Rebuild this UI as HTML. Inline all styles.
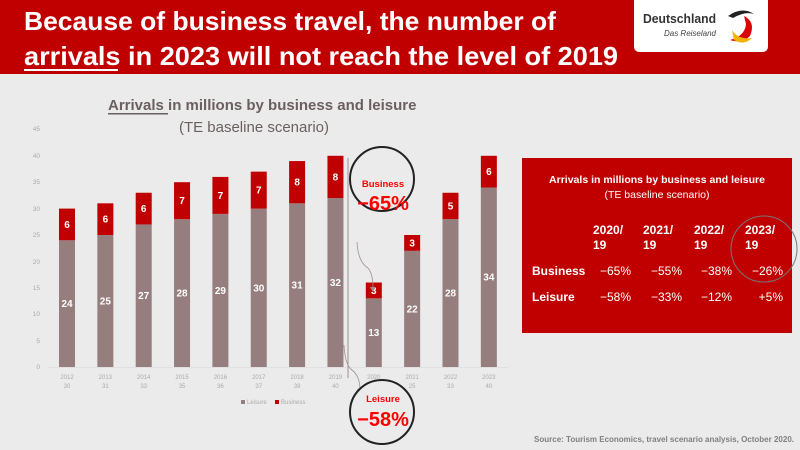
<!DOCTYPE html>
<html><head><meta charset="utf-8"><style>
html,body{margin:0;padding:0;background:#ebebeb;}
svg{display:block;font-family:"Liberation Sans",Arial,sans-serif;}
</style></head><body>
<svg width="800" height="450" viewBox="0 0 800 450" xmlns="http://www.w3.org/2000/svg">
<rect width="800" height="450" fill="#ebebeb"/>
<rect width="800" height="74" fill="#c00000"/>
<text x="24" y="30" fill="#fff" font-size="26" font-weight="bold" textLength="532" lengthAdjust="spacingAndGlyphs">Because of business travel, the number of</text>
<text x="24" y="65" fill="#fff" font-size="26" font-weight="bold" textLength="594" lengthAdjust="spacingAndGlyphs">arrivals in 2023 will not reach the level of 2019</text>
<rect x="24" y="69" width="94" height="2" fill="#fff"/>
<path d="M634 0 H768 V46 Q768 52 762 52 H640 Q634 52 634 46 Z" fill="#fff"/>
<text x="643" y="23" fill="#333" font-size="13" font-weight="bold" textLength="73" lengthAdjust="spacingAndGlyphs">Deutschland</text>
<text x="716" y="36" fill="#444" font-size="8" font-style="italic" text-anchor="end">Das Reiseland</text>
<path d="M728 16 Q742 6 754 14 Q745 11 733 18 Z" fill="#222"/>
<path d="M744 16 Q756 22 750 36 Q742 44 730 40 Q745 36 746 24 Z" fill="#d00"/>
<path d="M732 30 Q738 40 752 38 Q744 46 734 40 Z" fill="#f0b400"/>
<text x="108" y="110" fill="#6b5f5f" font-size="15" font-weight="bold">Arrivals in millions by business and leisure</text>
<rect x="108" y="113" width="60" height="1.5" fill="#6b5f5f"/>
<text x="254" y="132" fill="#6b5f5f" font-size="15" text-anchor="middle">(TE baseline scenario)</text>
<g font-size="6.5" fill="#aaa" text-anchor="end">
<text x="40" y="131">45</text><text x="40" y="158">40</text><text x="40" y="184">35</text><text x="40" y="211">30</text><text x="40" y="237">25</text><text x="40" y="264">20</text><text x="40" y="290">15</text><text x="40" y="316">10</text><text x="40" y="343">5</text><text x="40" y="369">0</text>
</g>
<line x1="48" y1="367.5" x2="508" y2="367.5" stroke="#dcdcdc" stroke-width="0.8"/>
<g fill="#967e7e">
<rect x="59" y="240.28" width="16" height="126.72"/>
<rect x="97.35" y="235" width="16" height="132"/>
<rect x="135.7" y="224.44" width="16" height="142.56"/>
<rect x="174.05" y="219.16" width="16" height="147.84"/>
<rect x="212.4" y="213.88" width="16" height="153.12"/>
<rect x="250.75" y="208.6" width="16" height="158.4"/>
<rect x="289.1" y="203.32" width="16" height="163.68"/>
<rect x="327.45" y="198.04" width="16" height="168.96"/>
<rect x="365.8" y="298.36" width="16" height="68.64"/>
<rect x="404.15" y="250.84" width="16" height="116.16"/>
<rect x="442.5" y="219.16" width="16" height="147.84"/>
<rect x="480.85" y="187.48" width="16" height="179.52"/>
</g>
<g fill="#c00000">
<rect x="59" y="208.6" width="16" height="31.68"/>
<rect x="97.35" y="203.32" width="16" height="31.68"/>
<rect x="135.7" y="192.76" width="16" height="31.68"/>
<rect x="174.05" y="182.2" width="16" height="36.96"/>
<rect x="212.4" y="176.92" width="16" height="36.96"/>
<rect x="250.75" y="171.64" width="16" height="36.96"/>
<rect x="289.1" y="161.08" width="16" height="42.24"/>
<rect x="327.45" y="155.8" width="16" height="42.24"/>
<rect x="365.8" y="282.52" width="16" height="15.84"/>
<rect x="404.15" y="235" width="16" height="15.84"/>
<rect x="442.5" y="192.76" width="16" height="26.4"/>
<rect x="480.85" y="155.8" width="16" height="31.68"/>
</g>
<g fill="#fff" font-size="10" font-weight="bold" text-anchor="middle">
<text x="67" y="307.1">24</text><text x="67" y="227.9">6</text>
<text x="105.35" y="304.5">25</text><text x="105.35" y="222.7">6</text>
<text x="143.7" y="299.2">27</text><text x="143.7" y="212.1">6</text>
<text x="182.05" y="296.6">28</text><text x="182.05" y="204.2">7</text>
<text x="220.4" y="293.9">29</text><text x="220.4" y="198.9">7</text>
<text x="258.75" y="291.3">30</text><text x="258.75" y="193.6">7</text>
<text x="297.1" y="288.7">31</text><text x="297.1" y="185.7">8</text>
<text x="335.45" y="286">32</text><text x="335.45" y="180.4">8</text>
<text x="373.8" y="336.2">13</text><text x="373.8" y="293.9">3</text>
<text x="412.15" y="312.4">22</text><text x="412.15" y="246.4">3</text>
<text x="450.5" y="296.6">28</text><text x="450.5" y="209.5">5</text>
<text x="488.85" y="280.7">34</text><text x="488.85" y="175.1">6</text>
</g>
<g fill="#aaa" font-size="6" text-anchor="middle">
<text x="67" y="379">2012</text><text x="67" y="388">30</text>
<text x="105.35" y="379">2013</text><text x="105.35" y="388">31</text>
<text x="143.7" y="379">2014</text><text x="143.7" y="388">33</text>
<text x="182.05" y="379">2015</text><text x="182.05" y="388">35</text>
<text x="220.4" y="379">2016</text><text x="220.4" y="388">36</text>
<text x="258.75" y="379">2017</text><text x="258.75" y="388">37</text>
<text x="297.1" y="379">2018</text><text x="297.1" y="388">39</text>
<text x="335.45" y="379">2019</text><text x="335.45" y="388">40</text>
<text x="373.8" y="379">2020</text><text x="373.8" y="388">16</text>
<text x="412.15" y="379">2021</text><text x="412.15" y="388">25</text>
<text x="450.5" y="379">2022</text><text x="450.5" y="388">33</text>
<text x="488.85" y="379">2023</text><text x="488.85" y="388">40</text>
</g>
<line x1="348" y1="158" x2="348" y2="378" stroke="#a09090" stroke-width="1"/>
<path d="M357 242 Q358 262 368 268 Q373 274 373 288" fill="none" stroke="#a09090" stroke-width="0.8"/>
<path d="M370 287 L376 287 L373 292 Z" fill="#a09090"/>
<path d="M344 345 Q345 365 352 370 Q360 376 360 390" fill="none" stroke="#a09090" stroke-width="0.8"/>
<path d="M357 389 L363 389 L360 394 Z" fill="#a09090"/>
<circle cx="382" cy="179" r="32" fill="#ebebeb" stroke="#222" stroke-width="2"/>
<text x="383" y="187" fill="#ff0000" font-size="9.5" font-weight="bold" text-anchor="middle">Business</text>
<text x="383" y="210" fill="#ff0000" font-size="20" font-weight="bold" text-anchor="middle">−65%</text>
<circle cx="382" cy="412" r="32" fill="#ebebeb" stroke="#222" stroke-width="2"/>
<text x="383" y="402" fill="#ff0000" font-size="9.5" font-weight="bold" text-anchor="middle">Leisure</text>
<text x="383" y="426" fill="#ff0000" font-size="20" font-weight="bold" text-anchor="middle">−58%</text>
<rect x="241" y="400" width="4" height="4" fill="#967e7e"/><text x="247" y="404" font-size="6" fill="#aaa">Leisure</text>
<rect x="275" y="400" width="4" height="4" fill="#c00000"/><text x="281" y="404" font-size="6" fill="#aaa">Business</text>
<rect x="522" y="158" width="270" height="175" fill="#c00000"/>
<text x="657" y="183" fill="#fff" font-size="10.5" font-weight="bold" text-anchor="middle">Arrivals in millions by business and leisure</text>
<text x="657" y="198" fill="#fff" font-size="10.5" text-anchor="middle">(TE baseline scenario)</text>
<g fill="#fff" font-size="12" font-weight="bold">
<text x="593" y="234">2020/</text><text x="593" y="249">19</text>
<text x="643" y="234">2021/</text><text x="643" y="249">19</text>
<text x="694" y="234">2022/</text><text x="694" y="249">19</text>
<text x="745" y="234">2023/</text><text x="745" y="249">19</text>
<text x="532" y="275">Business</text><text x="532" y="301">Leisure</text>
</g>
<g fill="#fff" font-size="12" text-anchor="end">
<text x="631" y="275">−65%</text><text x="682" y="275">−55%</text><text x="732" y="275">−38%</text><text x="783" y="275">−26%</text>
<text x="631" y="301">−58%</text><text x="682" y="301">−33%</text><text x="732" y="301">−12%</text><text x="783" y="301">+5%</text>
</g>
<circle cx="764" cy="249" r="33" fill="none" stroke="#777" stroke-width="1"/>
<text x="794" y="442" fill="#7f7f7f" font-size="8" font-weight="bold" text-anchor="end">Source: Tourism Economics, travel scenario analysis, October 2020.</text>
</svg>
</body></html>
